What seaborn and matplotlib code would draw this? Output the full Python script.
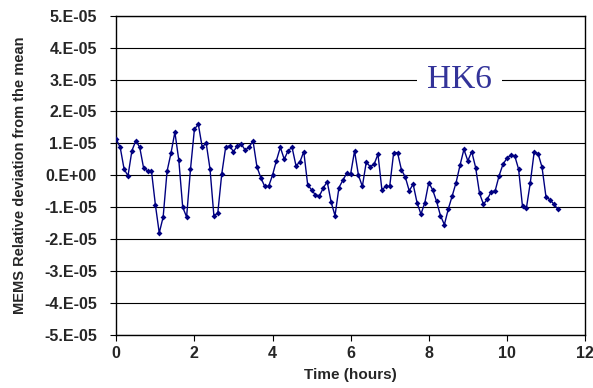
import numpy as np
import pandas as pd
import matplotlib
matplotlib.use("Agg")
import matplotlib.pyplot as plt
import seaborn as sns

# samples every 0.1 hour, values in units of 1E-05
TIME_STEP = 0.1
deviation_e5 = [
    1.125, 0.875, 0.19, -0.02, 0.77, 1.08, 0.875, 0.22, 0.14, 0.14,
    -0.92, -1.81, -1.31, 0.125, 0.69, 1.35, 0.48, -1.0, -1.31, 0.19,
    1.44, 1.6, 0.875, 1.02, 0.19, -1.29, -1.17, 0.04, 0.875, 0.92,
    0.74, 0.92, 0.97, 0.79, 0.875, 1.08, 0.27, -0.08, -0.35, -0.35,
    0.0, 0.46, 0.875, 0.5, 0.77, 0.875, 0.3, 0.41, 0.74, -0.30,
    -0.46, -0.62, -0.65, -0.40, -0.20, -0.84, -1.27, -0.39, -0.16, 0.06,
    0.04, 0.76, 0.0, -0.35, 0.41, 0.27, 0.34, 0.66, -0.46, -0.35,
    -0.35, 0.69, 0.71, 0.17, -0.06, -0.49, -0.28, -0.86, -1.22, -0.86,
    -0.23, -0.46, -0.82, -1.27, -1.55, -1.06, -0.65, -0.23, 0.31, 0.81,
    0.45, 0.74, 0.24, -0.57, -0.91, -0.75, -0.52, -0.49, -0.02, 0.34,
    0.53, 0.63, 0.61, 0.19, -0.98, -1.03, -0.23, 0.74, 0.67, 0.25,
    -0.67, -0.77, -0.90, -1.06,
]
x_ticks = [0, 2, 4, 6, 8, 10, 12]
y_ticks = [-5e-05, -4e-05, -3e-05, -2e-05, -1e-05, 0.0, 1e-05, 2e-05, 3e-05, 4e-05, 5e-05]
y_tick_labels = ["-5.E-05", "-4.E-05", "-3.E-05", "-2.E-05", "-1.E-05", "0.E+00",
                 "1.E-05", "2.E-05", "3.E-05", "4.E-05", "5.E-05"]
label_text = "HK6"

df = pd.DataFrame({
    "time": np.arange(len(deviation_e5)) * TIME_STEP,
    "deviation": np.array(deviation_e5) * 1e-05,
})

sns.set_style("white")
plt.rcParams["font.family"] = ["Liberation Sans", "DejaVu Sans"]

fig = plt.figure(figsize=(5.93, 3.88), dpi=100)
ax = fig.add_axes([0.1961, 0.1374, 0.7904, 0.8221])

# horizontal grid
for y in y_ticks:
    ax.axhline(y, color="black", lw=0.8, zorder=1)

sns.lineplot(data=df, x="time", y="deviation", ax=ax, color="#000080",
             marker="D", markersize=3.0, markeredgewidth=0, lw=1.0, zorder=3)

ax.set_xlim(0, 12)
ax.set_ylim(-5e-05, 5e-05)
ax.set_xticks(x_ticks)
ax.set_xticklabels([str(t) for t in x_ticks], fontsize=11.5, fontweight="bold")
ax.set_yticks(y_ticks)
ax.set_yticklabels(y_tick_labels, fontsize=11.5, fontweight="bold")
ax.tick_params(axis="y", direction="out", length=4, width=0.8, color="black", pad=10, left=True)
ax.tick_params(axis="x", direction="out", length=4, width=0.8, color="black", pad=4, bottom=True)
for sp in ax.spines.values():
    sp.set_color("black")
    sp.set_linewidth(1.0)

ax.set_xlabel("Time (hours)", fontsize=11, fontweight="bold", labelpad=5)
ax.set_ylabel("MEMS Relative deviation from the mean", fontsize=10.5, fontweight="bold", labelpad=12)

ax.text(8.79, 3e-05, label_text, fontsize=24, color="#333399", family="Liberation Serif",
        ha="center", va="center", zorder=4,
        bbox=dict(boxstyle="square,pad=0.3", fc="white", ec="none"))

fig.savefig("out.png", dpi=100)
